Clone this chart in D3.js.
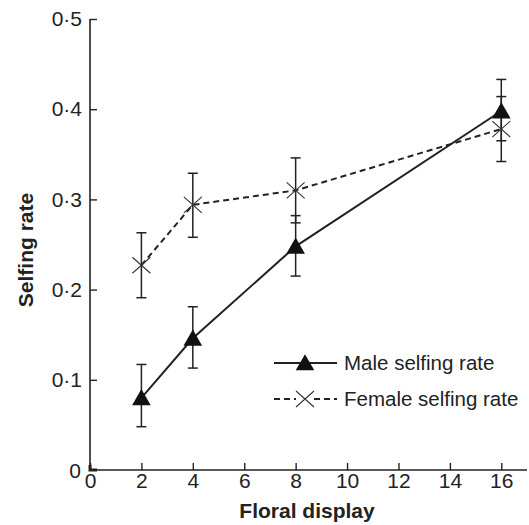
<!DOCTYPE html>
<html>
<head>
<meta charset="utf-8">
<script src="https://cdn.jsdelivr.net/npm/d3@7"></script>
<style>
  body { margin: 0; background: #fff; }
  text { font-family: "Liberation Sans", Arial, sans-serif; fill: #222; }
</style>
</head>
<body>
<script>
const floralDisplay = [2, 4, 8, 16];
const maleRate = [0.080, 0.146, 0.248, 0.398];
const maleLow = [0.048, 0.113, 0.215, 0.365];
const maleHigh = [0.117, 0.181, 0.282, 0.433];
const femaleRate = [0.227, 0.294, 0.310, 0.378];
const femaleLow = [0.191, 0.258, 0.274, 0.342];
const femaleHigh = [0.263, 0.329, 0.346, 0.414];
const xTicks = [0, 2, 4, 6, 8, 10, 12, 14, 16];
const yTicks = [0, 0.1, 0.2, 0.3, 0.4, 0.5];
const seriesNames = ['Male selfing rate', 'Female selfing rate'];

const width = 529, height = 525;
const margin = { left: 90, right: 2, top: 19, bottom: 55 };
const ink = '#222';

const svg = d3.select('body').append('svg')
  .attr('width', width)
  .attr('height', height);

const x = d3.scaleLinear().domain([0, 17]).range([margin.left, width - margin.right]);
const y = d3.scaleLinear().domain([0, 0.5]).range([height - margin.bottom, margin.top]);

const fmt = d => d === 0 ? '0' : d3.format('.1f')(d).replace('.', '·');

// axes, ticks pointing inward
const xAxis = svg.append('g')
  .attr('transform', `translate(0,${y(0)})`)
  .call(d3.axisBottom(x).tickValues(xTicks).tickSize(-7).tickPadding(3).tickFormat(d3.format('d')));
const yAxis = svg.append('g')
  .attr('transform', `translate(${x(0)},0)`)
  .call(d3.axisLeft(y).tickValues(yTicks.slice(1)).tickSize(-7).tickPadding(8).tickFormat(fmt));

[xAxis, yAxis].forEach(a => {
  a.select('.domain').attr('stroke', ink).attr('stroke-width', 1.6);
  a.selectAll('.tick line').attr('stroke', ink).attr('stroke-width', 1.4);
  a.selectAll('.tick text').attr('font-size', 21).attr('fill', ink)
    .style('font-family', '"Liberation Sans", Arial, sans-serif');
});
xAxis.select('.domain').attr('d', `M${x(0)},0H${width - margin.right}`);
yAxis.select('.domain').attr('d', `M0,${y(0.5)}V${y(0)}`);

// the y "0" label sits left of the corner
svg.append('text')
  .attr('x', x(0) - 9).attr('y', y(0)).attr('dy', '0.36em')
  .attr('text-anchor', 'end').attr('font-size', 21).text('0');
// thicker corner
svg.append('path')
  .attr('d', `M${x(0)},${y(0) - 5}V${y(0)}H${x(0) + 7}`)
  .attr('stroke', ink).attr('stroke-width', 3).attr('fill', 'none');

svg.append('text')
  .attr('x', 307).attr('y', 518)
  .attr('text-anchor', 'middle').attr('font-size', 21).attr('font-weight', 'bold')
  .text('Floral display');
svg.append('text')
  .attr('transform', `translate(33,250) rotate(-90)`)
  .attr('text-anchor', 'middle').attr('font-size', 21).attr('font-weight', 'bold')
  .text('Selfing rate');

const tri = d3.symbol(d3.symbolTriangle, 150);
const cross = 'M-9,-8L9,8M-9,8L9,-8';

function errorBars(low, high) {
  const g = svg.append('g').attr('stroke', ink).attr('stroke-width', 1.5);
  floralDisplay.forEach((d, i) => {
    g.append('line').attr('x1', x(d)).attr('x2', x(d)).attr('y1', y(low[i])).attr('y2', y(high[i]));
    [low[i], high[i]].forEach(v => {
      g.append('line').attr('x1', x(d) - 5).attr('x2', x(d) + 5).attr('y1', y(v)).attr('y2', y(v));
    });
  });
}

errorBars(femaleLow, femaleHigh);
errorBars(maleLow, maleHigh);

const line = d3.line().x((d, i) => x(floralDisplay[i])).y(d => y(d));

svg.append('path').datum(femaleRate)
  .attr('d', line).attr('fill', 'none').attr('stroke', ink)
  .attr('stroke-width', 2).attr('stroke-dasharray', '6,4');
svg.append('path').datum(maleRate)
  .attr('d', line).attr('fill', 'none').attr('stroke', ink).attr('stroke-width', 2);

svg.selectAll('.fem').data(femaleRate).enter().append('path')
  .attr('transform', (d, i) => `translate(${x(floralDisplay[i])},${y(d)})`)
  .attr('d', cross).attr('stroke', '#333').attr('stroke-width', 1.1).attr('fill', 'none');
svg.selectAll('.male').data(maleRate).enter().append('path')
  .attr('transform', (d, i) => `translate(${x(floralDisplay[i])},${y(d) + 2})`)
  .attr('d', tri).attr('fill', '#111');

// legend
const legend = svg.append('g').attr('transform', 'translate(274,363)');
seriesNames.forEach((name, i) => {
  const row = legend.append('g').attr('transform', `translate(0,${i * 36})`);
  row.append('line').attr('x1', 0).attr('x2', 63).attr('y1', 0).attr('y2', 0)
    .attr('stroke', ink).attr('stroke-width', 2)
    .attr('stroke-dasharray', i === 1 ? '6,4' : null);
  if (i === 0) {
    row.append('path').attr('transform', 'translate(31,2)').attr('d', tri).attr('fill', '#111');
  } else {
    row.append('rect').attr('x', 22).attr('y', -9).attr('width', 18).attr('height', 18).attr('fill', '#fff');
    row.append('path').attr('transform', 'translate(31,0)').attr('d', cross)
      .attr('stroke', '#333').attr('stroke-width', 1.1).attr('fill', 'none');
  }
  row.append('text').attr('x', 70).attr('y', 0).attr('dy', '0.36em')
    .attr('font-size', 20.5).text(name);
});
</script>
</body>
</html>
